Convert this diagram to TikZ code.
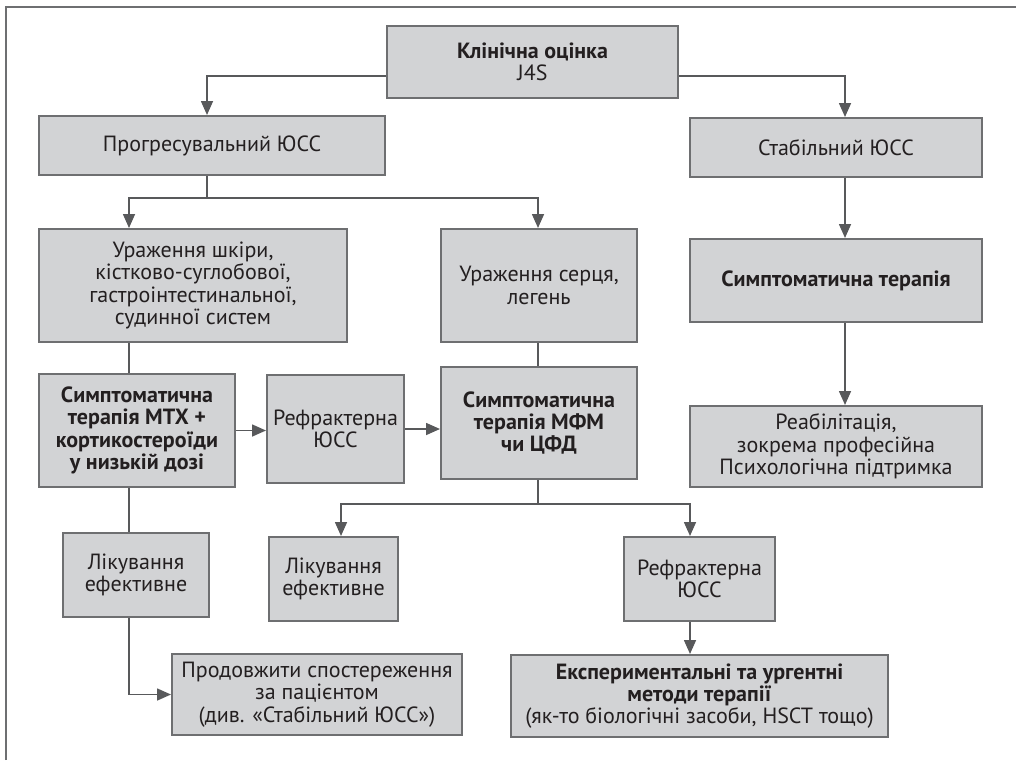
\documentclass[tikz,border=0pt]{standalone}
\usepackage{fontspec}
\setmainfont{PT Sans}
\usetikzlibrary{arrows.meta}
\definecolor{boxfill}{RGB}{210,211,213}
\definecolor{boxline}{RGB}{110,111,113}
\definecolor{linegrey}{RGB}{88,89,91}
\definecolor{txt}{RGB}{35,31,32}
\begin{document}
\begin{tikzpicture}[x=0.5pt,y=-0.5pt,>={Triangle[length=7pt,width=6pt]}]
\tikzset{
    box/.style={%
        draw=boxline, line width=1pt,
        fill=boxfill,
        rectangle,
        align=center,
        text=txt,
        inner sep=2pt,
        font=\fontsize{11}{11.2}\selectfont
        },
    conn/.style={%
        draw=linegrey, line width=0.8pt
        },
}
\useasboundingbox (0,0) rectangle (1016,760);
\draw[draw=boxline, line width=0.8pt] (6,760) -- (6,7) -- (1016,7);
%%%BOXES
\node[box, minimum width=145.5pt, minimum height=36pt] (klin) at (532.5,62) {\textbf{Клінічна оцінка}\\J4S};
\node[box, minimum width=173pt, minimum height=29.5pt] (prog) at (212,145.5) {Прогресувальний ЮСС};
\node[box, minimum width=146pt, minimum height=29.5pt] (stab) at (836,147.5) {Стабільний ЮСС};
\node[box, minimum width=154pt, minimum height=56.5pt] (ush) at (193,285.5) {Ураження шкіри,\\кістково-суглобової,\\гастроінтестинальної,\\судинної систем};
\node[box, minimum width=98pt, minimum height=56.5pt] (uss) at (539,285.5) {Ураження серця,\\легень};
\node[box, minimum width=146pt, minimum height=41.5pt] (simp) at (836,280.5) {\textbf{Симптоматична терапія}};
\node[box, minimum width=98pt, minimum height=56.5pt] (mtx) at (137,430.5) {\textbf{Симптоматична}\\\textbf{терапія МТХ +}\\\textbf{кортикостероїди}\\\textbf{у низькій дозі}};
\node[box, minimum width=68.5pt, minimum height=54pt] (refr1) at (335.5,429) {Рефрактерна\\ЮСС};
\node[box, minimum width=98pt, minimum height=56pt] (mfm) at (539,423) {\textbf{Симптоматична}\\\textbf{терапія МФМ}\\\textbf{чи ЦФД}};
\node[box, minimum width=146pt, minimum height=40.5pt] (reab) at (836,446.5) {Реабілітація,\\зокрема професійна\\Психологічна підтримка};
\node[box, minimum width=73pt, minimum height=42pt] (lik1) at (136,575) {Лікування\\ефективне};
\node[box, minimum width=64.5pt, minimum height=42pt] (lik2) at (333.5,579) {Лікування\\ефективне};
\node[box, minimum width=75.5pt, minimum height=42pt] (refr2) at (699.5,579) {Рефрактерна\\ЮСС};
\node[box, minimum width=145pt, minimum height=40.5pt] (prod) at (317,694.5) {Продовжити спостереження\\за пацієнтом\\(див. «Стабільний ЮСС»)};
\node[box, minimum width=188.5pt, minimum height=41pt] (eksp) at (699.5,696) {\textbf{Експериментальні та ургентні}\\\textbf{методи терапії}\\(як-то біологічні засоби, HSCT тощо)};
%%%COLUMNS AND SPLITS
\coordinate (cl) at (129,0);
\coordinate (cm) at (538,0);
\coordinate (cr) at (845,0);
\coordinate (cp) at (207,0);
\coordinate (c2) at (341,0);
\coordinate (c3) at (690,0);
\coordinate (sp1) at (207,198);
\coordinate (sp2) at (538,504);
%%%CONNECTORS
\draw[conn,->] ([yshift=-7pt]klin.west) -| (prog.north -| cp);
\draw[conn,->] ([yshift=-7pt]klin.east) -| (stab.north -| cr);
\draw[conn] (prog.south -| sp1) -- (sp1);
\draw[conn,->] (sp1) -| (ush.north -| cl);
\draw[conn,->] (sp1) -| (uss.north -| cm);
\draw[conn,->] (stab.south -| cr) -- (simp.north -| cr);
\draw[conn,->] (simp.south -| cr) -- (reab.north -| cr);
\draw[conn] (ush.south -| cl) -- (mtx.north -| cl);
\draw[conn] (uss.south -| cm) -- (mfm.north -| cm);
\draw[conn,->] (mtx.east) -- (mtx.east -| refr1.west);
\draw[conn,->] (refr1.east) -- (refr1.east -| mfm.west);
\draw[conn] (mtx.south -| cl) -- (lik1.north -| cl);
\draw[conn,->] (lik1.south -| cl) |- (prod.west);
\draw[conn] (mfm.south -| sp2) -- (sp2);
\draw[conn,->] (sp2) -| (lik2.north -| c2);
\draw[conn,->] (sp2) -| (refr2.north -| c3);
\draw[conn,->] (refr2.south -| c3) -- (eksp.north -| c3);
\end{tikzpicture}
\end{document}
